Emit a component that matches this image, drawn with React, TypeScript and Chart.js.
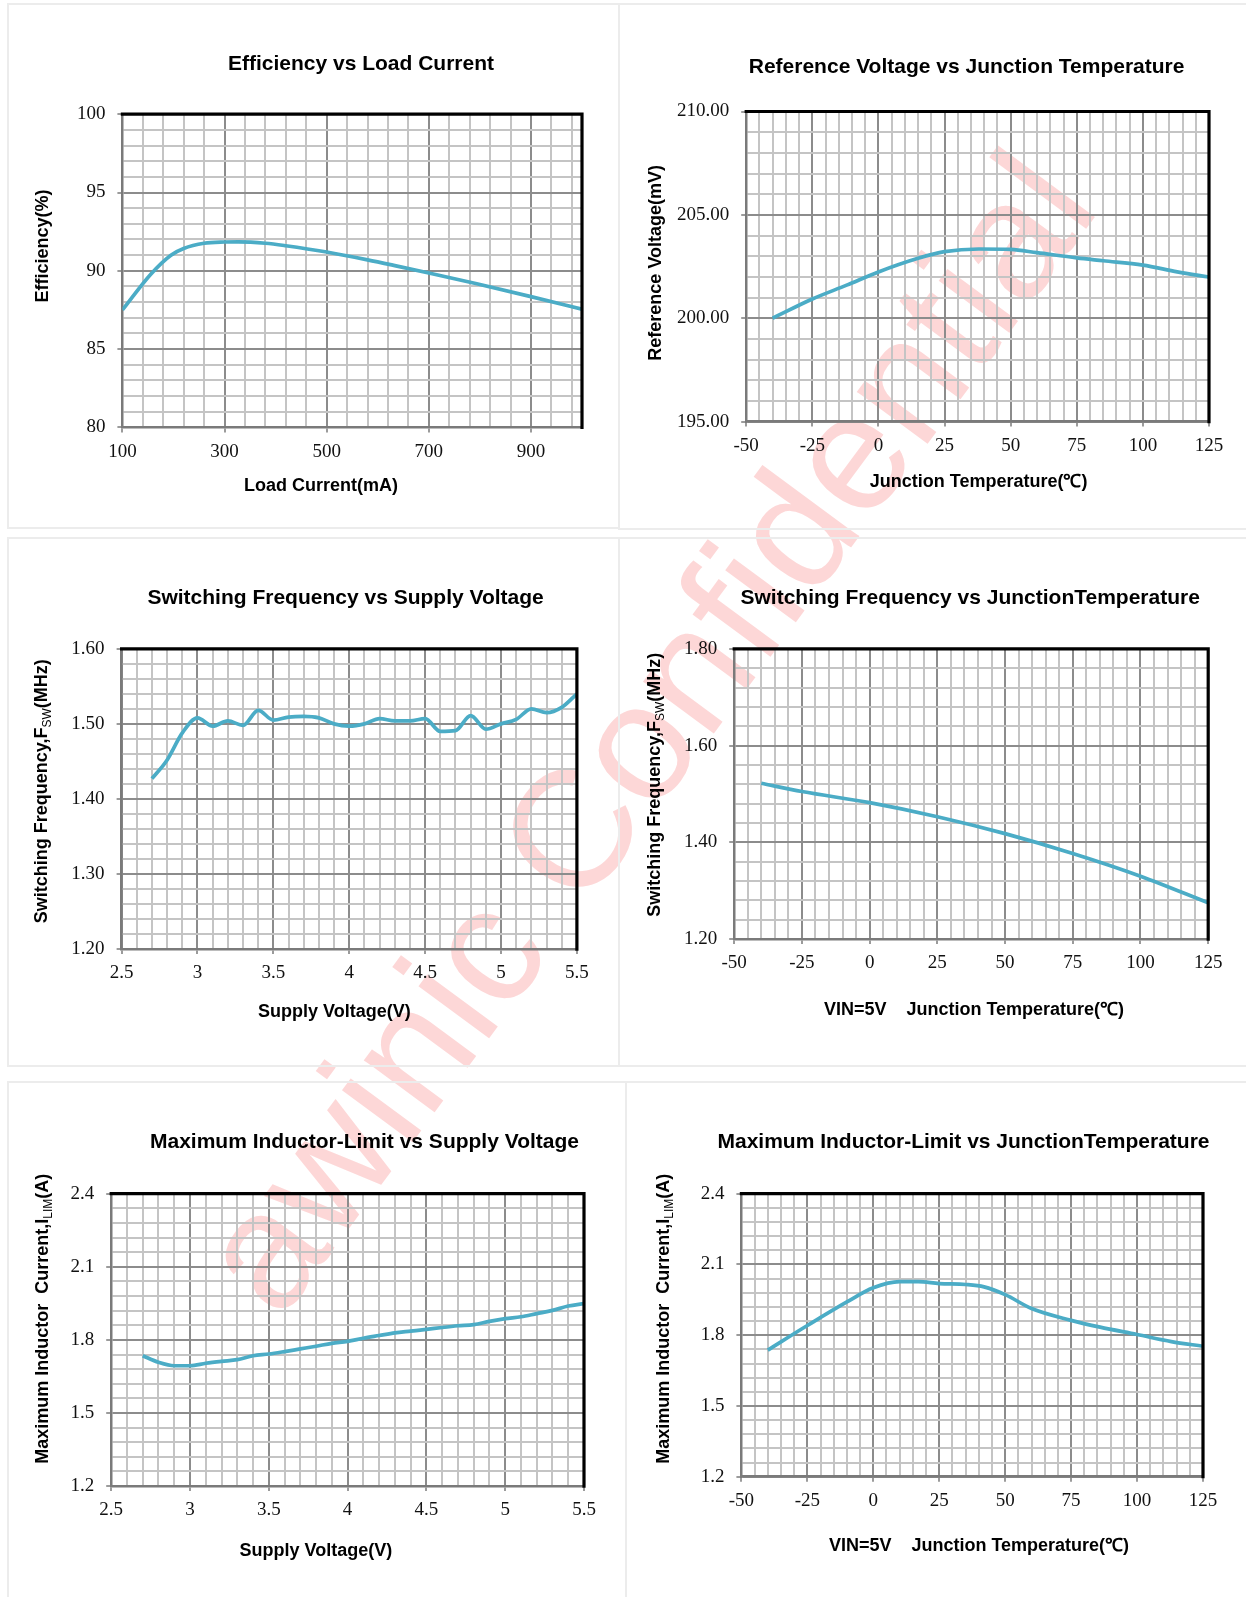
import React, { useEffect, useRef } from 'react';
import { Chart, registerables } from 'chart.js';

Chart.register(...registerables);

// ---------------- Data ----------------
// 1. Efficiency vs Load Current
const loadCurrent = [100, 156, 195, 220, 260, 300, 327, 380, 420, 500, 580, 638, 700, 794, 900, 1000];
const efficiency = [87.5, 89.8, 91.0, 91.43, 91.76, 91.84, 91.85, 91.76, 91.6, 91.2, 90.7, 90.3, 89.86, 89.17, 88.35, 87.55];
const loadTicks = [100, 300, 500, 700, 900];
const effTicks = [80, 85, 90, 95, 100];

// 2. Reference Voltage vs Junction Temperature
const tempVref = [-40, -25, -12, 0, 15, 25, 38, 50, 60, 75, 85, 100, 113, 125];
const vref = [200.0, 200.93, 201.6, 202.24, 202.9, 203.22, 203.35, 203.33, 203.17, 202.92, 202.78, 202.57, 202.24, 201.99];
const tempTicks = [-50, -25, 0, 25, 50, 75, 100, 125];
const vrefTicks = [195, 200, 205, 210];

// 3. Switching Frequency vs Supply Voltage
const supplyFsw = [2.7, 2.8, 2.9, 3.0, 3.1, 3.2, 3.3, 3.4, 3.5, 3.6, 3.7, 3.8, 3.9, 4.0, 4.1, 4.2, 4.3, 4.4, 4.5, 4.6, 4.7, 4.8, 4.9, 5.0, 5.1, 5.2, 5.3, 5.4, 5.5];
const fswSupply = [1.427, 1.452, 1.488, 1.508, 1.497, 1.504, 1.498, 1.518, 1.505, 1.509, 1.51, 1.508, 1.5, 1.497, 1.5, 1.507, 1.504, 1.504, 1.507, 1.49, 1.491, 1.511, 1.493, 1.5, 1.506, 1.52, 1.515, 1.522, 1.54];
const supplyTicks = [2.5, 3, 3.5, 4, 4.5, 5, 5.5];
const fswTicksA = [1.2, 1.3, 1.4, 1.5, 1.6];

// 4. Switching Frequency vs Junction Temperature
const tempFsw = [-40, -25, 0, 25, 50, 75, 100, 125];
const fswTemp = [1.522, 1.505, 1.482, 1.453, 1.418, 1.377, 1.33, 1.275];
const fswTicksB = [1.2, 1.4, 1.6, 1.8];

// 5. Maximum Inductor-Limit vs Supply Voltage
const supplyIlim = [2.7, 2.8, 2.9, 3.0, 3.1, 3.2, 3.3, 3.4, 3.5, 3.6, 3.7, 3.8, 3.9, 4.0, 4.1, 4.2, 4.3, 4.4, 4.5, 4.6, 4.7, 4.8, 4.9, 5.0, 5.1, 5.2, 5.3, 5.4, 5.5];
const ilimSupply = [1.735, 1.708, 1.694, 1.694, 1.704, 1.712, 1.719, 1.735, 1.742, 1.752, 1.763, 1.774, 1.786, 1.794, 1.807, 1.818, 1.829, 1.836, 1.843, 1.851, 1.858, 1.863, 1.876, 1.887, 1.895, 1.908, 1.921, 1.939, 1.949];
const ilimTicks = [1.2, 1.5, 1.8, 2.1, 2.4];

// 6. Maximum Inductor-Limit vs Junction Temperature
const tempIlim = [-40, -25, -10, 0, 10, 17, 25, 35, 42, 50, 60, 75, 86, 100, 113, 125];
const ilimTemp = [1.737, 1.841, 1.941, 2.001, 2.027, 2.027, 2.019, 2.015, 2.005, 1.972, 1.913, 1.863, 1.834, 1.803, 1.773, 1.753];

// ---------------- Styles ----------------
const SANS = '"Liberation Sans", Arial, sans-serif';
const SERIF = '"Liberation Serif", "Times New Roman", serif';
const LINE_COLOR = '#4BACC6';
const MAJOR_GRID = '#8c8c8c';
const MINOR_GRID = '#c4c4c4';
const AXIS_COLOR = '#7a7a7a';

type Seg = { t: string; sub?: boolean };
interface Axis {
  min: number;
  max: number;
  step: number;
  majors: number[];
  decimals: number; // -1 = plain
}
interface Cfg {
  key: string;
  panel: { left: number; top: number; width: number; height: number };
  W: number;
  H: number;
  area: { l: number; t: number; r: number; b: number };
  title: string;
  titlePos: [number, number];
  xTitle: string;
  xTitlePos: [number, number];
  yTitle: Seg[];
  yTitlePos: [number, number];
  xs: number[];
  ys: number[];
  xAxis: Axis;
  yAxis: Axis;
}

const CHARTS: Cfg[] = [
  {
    key: 'eff',
    panel: { left: 7, top: 3, width: 613, height: 526 },
    W: 609, H: 522,
    area: { l: 113.4, t: 109.2, r: 573, b: 422.4 },
    title: 'Efficiency vs Load Current', titlePos: [352, 59],
    xTitle: 'Load Current(mA)', xTitlePos: [312, 481.5],
    yTitle: [{ t: 'Efficiency(%)' }], yTitlePos: [32.7, 241],
    xs: loadCurrent, ys: efficiency,
    xAxis: { min: 100, max: 1000, step: 40, majors: loadTicks, decimals: -1 },
    yAxis: { min: 80, max: 100, step: 1, majors: effTicks, decimals: -1 },
  },
  {
    key: 'vref',
    panel: { left: 618, top: 3, width: 640, height: 527 },
    W: 636, H: 523,
    area: { l: 126.2, t: 106.5, r: 589, b: 416.6 },
    title: 'Reference Voltage vs Junction Temperature', titlePos: [346.6, 62],
    xTitle: 'Junction Temperature(℃)', xTitlePos: [358.6, 477.4],
    yTitle: [{ t: 'Reference Voltage(mV)' }], yTitlePos: [34.2, 257.8],
    xs: tempVref, ys: vref,
    xAxis: { min: -50, max: 125, step: 5, majors: tempTicks, decimals: -1 },
    yAxis: { min: 195, max: 210, step: 1, majors: vrefTicks, decimals: 2 },
  },
  {
    key: 'fswv',
    panel: { left: 7, top: 537, width: 613, height: 530 },
    W: 609, H: 526,
    area: { l: 112.6, t: 109.8, r: 567.9, b: 410.1 },
    title: 'Switching Frequency vs Supply Voltage', titlePos: [336.6, 59.2],
    xTitle: 'Supply Voltage(V)', xTitlePos: [325.3, 473],
    yTitle: [{ t: 'Switching Frequency,F' }, { t: 'SW', sub: true }, { t: '(MHz)' }], yTitlePos: [31.7, 252.2],
    xs: supplyFsw, ys: fswSupply,
    xAxis: { min: 2.5, max: 5.5, step: 0.1, majors: supplyTicks, decimals: -1 },
    yAxis: { min: 1.2, max: 1.6, step: 0.02, majors: fswTicksA, decimals: 2 },
  },
  {
    key: 'fswt',
    panel: { left: 618, top: 537, width: 640, height: 530 },
    W: 636, H: 526,
    area: { l: 114.2, t: 109.8, r: 588.2, b: 400.1 },
    title: 'Switching Frequency vs JunctionTemperature', titlePos: [350.2, 59.2],
    xTitle: 'VIN=5V    Junction Temperature(℃)', xTitlePos: [354, 470.7],
    yTitle: [{ t: 'Switching Frequency,F' }, { t: 'SW', sub: true }, { t: '(MHz)' }], yTitlePos: [33.8, 245.8],
    xs: tempFsw, ys: fswTemp,
    xAxis: { min: -50, max: 125, step: 5, majors: tempTicks, decimals: -1 },
    yAxis: { min: 1.2, max: 1.8, step: 0.04, majors: fswTicksB, decimals: 2 },
  },
  {
    key: 'ilimv',
    panel: { left: 7, top: 1081, width: 620, height: 540 },
    W: 616, H: 514,
    area: { l: 102.2, t: 110.7, r: 575, b: 403.1 },
    title: 'Maximum Inductor-Limit vs Supply Voltage', titlePos: [355.5, 59.3],
    xTitle: 'Supply Voltage(V)', xTitlePos: [306.9, 467.7],
    yTitle: [{ t: 'Maximum Inductor  Current,I' }, { t: 'LIM', sub: true }, { t: '(A)' }], yTitlePos: [32.5, 235.7],
    xs: supplyIlim, ys: ilimSupply,
    xAxis: { min: 2.5, max: 5.5, step: 0.1, majors: supplyTicks, decimals: -1 },
    yAxis: { min: 1.2, max: 2.4, step: 0.06, majors: ilimTicks, decimals: 1 },
  },
  {
    key: 'ilimt',
    panel: { left: 625, top: 1081, width: 640, height: 540 },
    W: 636, H: 514,
    area: { l: 114.4, t: 110.7, r: 576, b: 393.7 },
    title: 'Maximum Inductor-Limit vs JunctionTemperature', titlePos: [336.5, 59.3],
    xTitle: 'VIN=5V    Junction Temperature(℃)', xTitlePos: [352, 462.6],
    yTitle: [{ t: 'Maximum Inductor  Current,I' }, { t: 'LIM', sub: true }, { t: '(A)' }], yTitlePos: [35.7, 235.7],
    xs: tempIlim, ys: ilimTemp,
    xAxis: { min: -50, max: 125, step: 5, majors: tempTicks, decimals: -1 },
    yAxis: { min: 1.2, max: 2.4, step: 0.06, majors: ilimTicks, decimals: 1 },
  },
];

// ---------------- Helpers ----------------
function gridValues(a: Axis): number[] {
  const n = Math.floor((a.max - a.min) / a.step + 1e-9);
  const out: number[] = [];
  for (let k = 0; k <= n; k++) out.push(+(a.min + k * a.step).toFixed(6));
  if (out[out.length - 1] < a.max - 1e-9) out.push(a.max);
  return out;
}
const isMajor = (v: number, a: Axis) => a.majors.some((m) => Math.abs(m - v) < 1e-6);
const fmt = (v: number, a: Axis) => (a.decimals >= 0 ? v.toFixed(a.decimals) : String(+v.toFixed(6)));

function scaleOptions(a: Axis, isX: boolean, cfg: Cfg) {
  const vals = gridValues(a);
  return {
    type: 'linear',
    position: isX ? 'bottom' : 'left',
    min: a.min,
    max: a.max,
    afterBuildTicks: (scale: any) => {
      scale.ticks = vals.map((v) => ({ value: v }));
    },
    afterFit: (scale: any) => {
      if (isX) scale.height = cfg.H - cfg.area.b;
      else scale.width = cfg.area.l;
    },
    ticks: {
      autoSkip: false,
      maxRotation: 0,
      minRotation: 0,
      padding: isX ? 8 : 12,
      color: '#111',
      font: { family: SERIF, size: 19 },
      callback: (v: any) => (isMajor(+v, a) ? fmt(+v, a) : ''),
    },
    grid: {
      display: true,
      drawOnChartArea: true,
      drawTicks: true,
      tickLength: 5,
      lineWidth: 2,
      tickWidth: 1.5,
      color: (ctx: any) => (ctx.tick && isMajor(ctx.tick.value, a) ? MAJOR_GRID : MINOR_GRID),
      tickColor: (ctx: any) => (ctx.tick && isMajor(ctx.tick.value, a) ? AXIS_COLOR : 'rgba(0,0,0,0)'),
    },
    border: { display: true, color: AXIS_COLOR, width: 2.5 },
  };
}

function ChartPanel({ cfg }: { cfg: Cfg }) {
  const ref = useRef<HTMLCanvasElement | null>(null);
  useEffect(() => {
    const canvas = ref.current;
    if (!canvas) return;
    const framePlugin = {
      id: 'frame',
      afterDatasetsDraw(chart: any) {
        const { ctx, chartArea } = chart;
        const { left, top, right, bottom } = chartArea;
        ctx.save();
        ctx.strokeStyle = '#000';
        ctx.lineWidth = 3.2;
        ctx.lineCap = 'square';
        ctx.beginPath();
        ctx.moveTo(left, top);
        ctx.lineTo(right, top);
        ctx.lineTo(right, bottom);
        ctx.stroke();
        ctx.restore();
      },
    };
    const textPlugin = {
      id: 'panelText',
      afterDraw(chart: any) {
        const ctx = chart.ctx;
        ctx.save();
        ctx.fillStyle = '#000';
        ctx.textAlign = 'center';
        ctx.textBaseline = 'middle';
        ctx.font = `bold 21px ${SANS}`;
        ctx.fillText(cfg.title, cfg.titlePos[0], cfg.titlePos[1]);
        ctx.font = `bold 18px ${SANS}`;
        ctx.fillText(cfg.xTitle, cfg.xTitlePos[0], cfg.xTitlePos[1]);
        // rotated y-axis title with optional subscript
        const mainFont = `bold 18px ${SANS}`;
        const subFont = `12px ${SANS}`;
        let total = 0;
        const widths = cfg.yTitle.map((s) => {
          ctx.font = s.sub ? subFont : mainFont;
          const w = ctx.measureText(s.t).width;
          total += w;
          return w;
        });
        ctx.translate(cfg.yTitlePos[0], cfg.yTitlePos[1]);
        ctx.rotate(-Math.PI / 2);
        ctx.textAlign = 'left';
        ctx.textBaseline = 'alphabetic';
        let x = -total / 2;
        const base = 6.5;
        cfg.yTitle.forEach((s, i) => {
          ctx.font = s.sub ? subFont : mainFont;
          ctx.fillText(s.t, x, s.sub ? base + 4 : base);
          x += widths[i];
        });
        ctx.restore();
      },
    };
    const chart = new Chart(canvas, {
      type: 'line',
      data: {
        datasets: [
          {
            data: cfg.xs.map((x, i) => ({ x, y: cfg.ys[i] })),
            borderColor: LINE_COLOR,
            borderWidth: 3.7,
            pointRadius: 0,
            fill: false,
            cubicInterpolationMode: 'monotone',
          },
        ],
      },
      options: {
        responsive: false,
        animation: false,
        devicePixelRatio: 1,
        events: [],
        layout: { padding: { left: 0, top: cfg.area.t, right: cfg.W - cfg.area.r, bottom: 0 } },
        plugins: {
          legend: { display: false },
          tooltip: { enabled: false },
          title: { display: false },
        },
        scales: {
          x: scaleOptions(cfg.xAxis, true, cfg) as any,
          y: scaleOptions(cfg.yAxis, false, cfg) as any,
        },
      } as any,
      plugins: [framePlugin, textPlugin],
    } as any);
    return () => chart.destroy();
  }, [cfg]);

  return (
    <div
      style={{
        position: 'absolute',
        left: cfg.panel.left,
        top: cfg.panel.top,
        width: cfg.panel.width,
        height: cfg.panel.height,
        border: '2px solid #ececec',
        boxSizing: 'border-box',
      }}
    >
      <canvas
        ref={ref}
        width={cfg.W}
        height={cfg.H}
        style={{ position: 'absolute', left: 0, top: 0, display: 'block' }}
      />
    </div>
  );
}

export default function App() {
  return (
    <div
      style={{
        position: 'absolute',
        left: 0,
        top: 0,
        width: 1246,
        height: 1597,
        overflow: 'hidden',
        background: '#fff',
      }}
    >
      <svg width={1246} height={1597} style={{ position: 'absolute', left: 0, top: 0 }}>
        <text
          x={280}
          y={1322}
          transform="rotate(-53.6 280 1322)"
          fontSize={166}
          fontFamily={SANS}
          fill="#fdd7d7"
        >
          awinic Confidential
        </text>
      </svg>
      {CHARTS.map((c) => (
        <ChartPanel key={c.key} cfg={c} />
      ))}
    </div>
  );
}
